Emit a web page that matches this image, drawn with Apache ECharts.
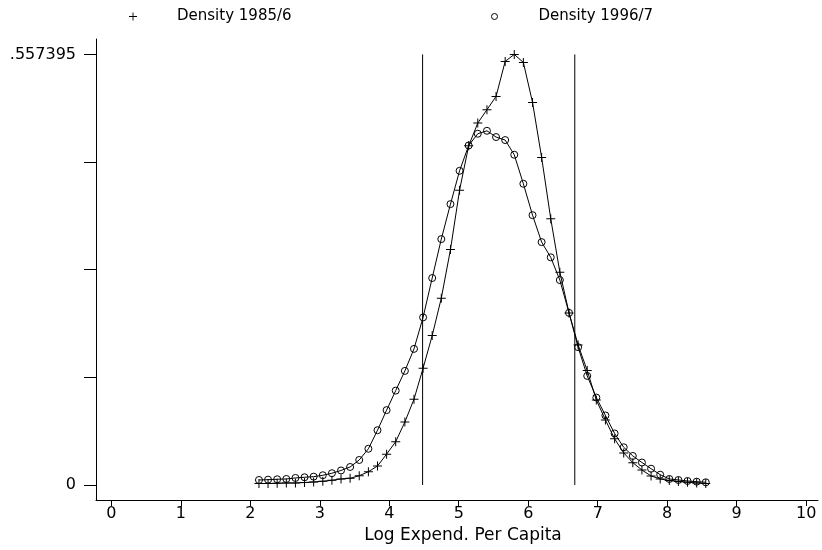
<!DOCTYPE html>
<html>
<head>
<meta charset="utf-8">
<script src="https://cdn.jsdelivr.net/npm/echarts@6/dist/echarts.min.js"></script>
<style>html,body{margin:0;padding:0;background:#fff}#c{width:822px;height:550px}</style>
</head>
<body>
<div id="c"></div>
<script>
// evaluation grid (50 points) of Log Expend. Per Capita
const xs = [2.125,2.256,2.387,2.519,2.650,2.781,2.912,3.044,3.175,3.306,
            3.437,3.568,3.700,3.831,3.962,4.093,4.225,4.356,4.487,4.618,
            4.749,4.881,5.012,5.143,5.274,5.406,5.537,5.668,5.799,5.930,
            6.062,6.193,6.324,6.455,6.587,6.718,6.849,6.980,7.111,7.243,
            7.374,7.505,7.636,7.768,7.899,8.030,8.161,8.292,8.424,8.555];
const density1985 = [0.0019,0.0019,0.0022,0.0026,0.0026,0.0032,0.0039,0.0048,0.0061,0.0078,
                     0.0087,0.0120,0.0172,0.0246,0.0399,0.0561,0.0816,0.1110,0.1512,0.1934,
                     0.2418,0.3047,0.3817,0.4391,0.4685,0.4858,0.5030,0.5483,0.557395,0.5470,
                     0.4952,0.4240,0.3446,0.2755,0.2228,0.1813,0.1481,0.1101,0.0842,0.0598,
                     0.0415,0.0289,0.0194,0.0117,0.0078,0.0058,0.0045,0.0035,0.0026,0.0019];
const density1996 = [0.0065,0.0069,0.0074,0.0078,0.0091,0.0100,0.0108,0.0126,0.0152,0.0188,
                     0.0233,0.0324,0.0469,0.0709,0.0969,0.1222,0.1477,0.1762,0.2170,0.2679,
                     0.3183,0.3636,0.4067,0.4395,0.4547,0.4585,0.4504,0.4465,0.4275,0.3899,
                     0.3493,0.3144,0.2947,0.2653,0.2228,0.1784,0.1412,0.1132,0.0900,0.0667,
                     0.0488,0.0376,0.0291,0.0211,0.0133,0.0078,0.0065,0.0052,0.0043,0.0035];
const povertyLines = [4.48, 6.67];
const lineTop = 0.557395;
const xTicks = [0,1,2,3,4,5,6,7,8,9,10];
const yTicks = [0, 0.139349, 0.278698, 0.418046, 0.557395];
const yLabels = [0, 0.557395];
const seriesNames = ['Density 1985/6', 'Density 1996/7'];

const FONT = 'DejaVu Sans';
const plusPath = 'path://M4,0h1v9h-1z M0,4h9v1h-9z';

const chart = echarts.init(document.getElementById('c'), null, {renderer: 'canvas'});
const lineSeries = [
  {
    type: 'line', name: seriesNames[0],
    data: xs.map((x, i) => [x, density1985[i]]),
    symbol: plusPath, symbolSize: 9, showAllSymbol: true,
    itemStyle: {color: '#000'},
    lineStyle: {color: '#000', width: 1},
    z: 3
  },
  {
    type: 'line', name: seriesNames[1],
    data: xs.map((x, i) => [x, density1996[i]]),
    symbol: 'circle', symbolSize: 7, showAllSymbol: true,
    itemStyle: {color: 'rgba(0,0,0,0)', borderColor: '#000', borderWidth: 1},
    lineStyle: {color: '#000', width: 1},
    z: 3
  }
];
povertyLines.forEach(p => {
  lineSeries.push({
    type: 'line', data: [[p, 0], [p, lineTop]], symbol: 'none', silent: true,
    lineStyle: {color: '#000', width: 1}, z: 2
  });
});

const legendText = {fontFamily: FONT, fontSize: 15, color: '#000', padding: [0, 0, 0, 35]};
chart.setOption({
  animation: false,
  backgroundColor: '#fff',
  legend: [
    {data: [{name: seriesNames[0], icon: plusPath}], left: 124, top: 4, itemWidth: 8, itemHeight: 8,
     selectedMode: false, textStyle: legendText, itemStyle: {color: '#000', borderWidth: 0}},
    {data: [{name: seriesNames[1], icon: 'circle'}], left: 486, top: 4, itemWidth: 8, itemHeight: 6,
     selectedMode: false, textStyle: legendText, itemStyle: {color: 'rgba(0,0,0,0)', borderColor: '#000', borderWidth: 1}}
  ],
  grid: {left: 96, right: 4, top: 39, bottom: 50, containLabel: false},
  xAxis: {
    type: 'value', min: -0.22, max: 10.17,
    axisLine: {show: true, onZero: false, lineStyle: {color: '#000', width: 1}},
    axisTick: {show: true, customValues: xTicks, length: 6, lineStyle: {color: '#000'}},
    axisLabel: {customValues: xTicks, margin: 6, fontFamily: FONT, fontSize: 16, color: '#000'},
    splitLine: {show: false},
    name: 'Log Expend. Per Capita', nameLocation: 'middle', nameGap: 21,
    nameTextStyle: {fontFamily: FONT, fontSize: 17, color: '#000', verticalAlign: 'top', padding: [0, 0, 0, 12]}
  },
  yAxis: {
    type: 'value', min: -0.01943, max: 0.57734,
    axisLine: {show: true, onZero: false, lineStyle: {color: '#000', width: 1}},
    axisTick: {show: true, customValues: yTicks, length: 12, lineStyle: {color: '#000'}},
    axisLabel: {customValues: yLabels, margin: 20, fontFamily: FONT, fontSize: 16, color: '#000',
      formatter: v => v === 0 ? '0' : String(v).replace(/^0\./, '.')},
    splitLine: {show: false}
  },
  series: lineSeries
});
</script>
</body>
</html>
